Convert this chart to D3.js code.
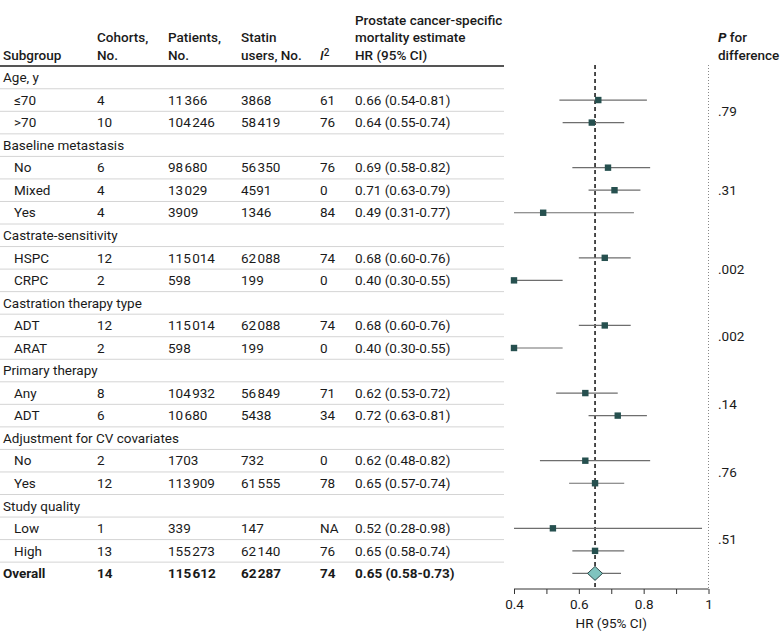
<!DOCTYPE html>
<meta charset="utf-8">
<style>
body {
  margin: 0;
  background: #fff;
}
text {
  font-family: Roboto, "Noto Sans", sans-serif;
  font-size: 13.5px;
  fill: #1a1a1a;
}
.head {
  font-weight: 500;
}
</style>
<body>
<script src="https://d3js.org/d3.v7.min.js"></script>
<script>
var width = 780;
var height = 643;

// subgroup headings and how many rows each one has
var groupNames = ["Age, y", "Baseline metastasis", "Castrate-sensitivity", "Castration therapy type",
                  "Primary therapy", "Adjustment for CV covariates", "Study quality"];
var groupSizes = [2, 3, 2, 2, 2, 2, 2];
var pValues = [".79", ".31", ".002", ".002", ".14", ".76", ".51"];

var subgroups = ["≤70", ">70", "No", "Mixed", "Yes", "HSPC", "CRPC", "ADT", "ARAT", "Any", "ADT", "No", "Yes", "Low", "High"];
var cohorts = [4, 10, 6, 4, 4, 12, 2, 12, 2, 8, 6, 2, 12, 1, 13];
var patients = [11366, 104246, 98680, 13029, 3909, 115014, 598, 115014, 598, 104932, 10680, 1703, 113909, 339, 155273];
var statinUsers = [3868, 58419, 56350, 4591, 1346, 62088, 199, 62088, 199, 56849, 5438, 732, 61555, 147, 62140];
var iSquared = ["61", "76", "76", "0", "84", "74", "0", "74", "0", "71", "34", "0", "78", "NA", "76"];
var hr = [0.66, 0.64, 0.69, 0.71, 0.49, 0.68, 0.40, 0.68, 0.40, 0.62, 0.72, 0.62, 0.65, 0.52, 0.65];
var hrLow = [0.54, 0.55, 0.58, 0.63, 0.31, 0.60, 0.30, 0.60, 0.30, 0.53, 0.63, 0.48, 0.57, 0.28, 0.58];
var hrHigh = [0.81, 0.74, 0.82, 0.79, 0.77, 0.76, 0.55, 0.76, 0.55, 0.72, 0.81, 0.82, 0.74, 0.98, 0.74];

var overall = ["Overall", 14, 115612, 62287, "74", 0.65, 0.58, 0.73];

var axisTicks = [0.4, 0.5, 0.6, 0.7, 0.8, 0.9, 1];

function fmtNum(n) {
  if (n >= 10000) return d3.format(",")(n).replace(",", "\u200A");
  return String(n);
}
function fmtHr(v, l, h) {
  return v.toFixed(2) + " (" + l.toFixed(2) + "-" + h.toFixed(2) + ")";
}

// build the list of rows
var rows = [];
var k = 0;
groupNames.forEach(function(g, gi) {
  rows.push({type: "group", label: g});
  var first = rows.length;
  for (var j = 0; j < groupSizes[gi]; j++) {
    rows.push({type: "item", label: subgroups[k], cohorts: cohorts[k], patients: patients[k],
               statin: statinUsers[k], i2: iSquared[k], hr: hr[k], lo: hrLow[k], hi: hrHigh[k]});
    k++;
  }
  rows[first].p = pValues[gi];
  rows[first].pSpan = groupSizes[gi];
});
rows.push({type: "overall", label: overall[0], cohorts: overall[1], patients: overall[2],
           statin: overall[3], i2: overall[4], hr: overall[5], lo: overall[6], hi: overall[7]});

var svg = d3.select("body").append("svg").attr("width", width).attr("height", height);

var y = d3.scaleLinear().domain([0, rows.length - 1]).range([77.5, 573.4]);
var rowH = y(1) - y(0);
var x = d3.scaleLinear().domain([0.4, 1]).range([514, 708.5]);

var col = {label: 3, cohorts: 97, patients: 168, statin: 241, i2: 320, hr: 355, p: 718};
var tableRight = 504;
var axisY = 589;

// header
var header = svg.append("g").attr("class", "head");
function headText(xx, yy, lines) {
  lines.forEach(function(s, i) {
    header.append("text").attr("class", "head").attr("x", xx).attr("y", yy - (lines.length - 1 - i) * 17.5)
      .attr("dy", "0.35em").text(s);
  });
}
headText(col.label, 55, ["Subgroup"]);
headText(col.cohorts, 55, ["Cohorts,", "No."]);
headText(col.patients, 55, ["Patients,", "No."]);
headText(col.statin, 55, ["Statin", "users, No."]);
headText(col.hr, 55, ["Prostate cancer-specific", "mortality estimate", "HR (95% CI)"]);
var i2h = header.append("text").attr("class", "head").attr("x", col.i2).attr("y", 55).attr("dy", "0.35em");
i2h.append("tspan").style("font-style", "italic").text("I");
i2h.append("tspan").attr("dy", "-0.4em").style("font-size", "10px").text("2");
var ph = header.append("text").attr("class", "head").attr("x", col.p).attr("y", 37.5).attr("dy", "0.35em");
ph.append("tspan").style("font-style", "italic").style("font-weight", "700").text("P");
ph.append("tspan").text(" for");
header.append("text").attr("class", "head").attr("x", col.p).attr("y", 55).attr("dy", "0.35em").text("difference");

// row separators
svg.selectAll("line.sep")
  .data(d3.range(rows.length - 1))
  .enter().append("line")
  .attr("class", "sep")
  .attr("x1", 0).attr("x2", tableRight)
  .attr("y1", function(i) { return y(i) + rowH / 2; })
  .attr("y2", function(i) { return y(i) + rowH / 2; })
  .style("stroke", "#d4d4d4").style("stroke-width", 1);

svg.append("line")
  .attr("x1", 0).attr("x2", tableRight).attr("y1", 66).attr("y2", 66)
  .style("stroke", "#555").style("stroke-width", 2);

// reference lines
svg.append("line")
  .attr("x1", x(1)).attr("x2", x(1)).attr("y1", 65).attr("y2", axisY)
  .style("stroke", "#888").style("stroke-width", 1).style("stroke-dasharray", "1,2");
svg.append("line")
  .attr("x1", x(overall[5])).attr("x2", x(overall[5])).attr("y1", 65).attr("y2", axisY)
  .style("stroke", "#111").style("stroke-width", 1.5).style("stroke-dasharray", "4,3");

// table text
var rowG = svg.selectAll("g.row").data(rows).enter().append("g")
  .attr("class", "row")
  .attr("transform", function(d, i) { return "translate(0," + y(i) + ")"; });

rowG.append("text")
  .attr("x", function(d) { return d.type === "item" ? 14 : col.label; })
  .attr("dy", "0.35em")
  .style("font-weight", function(d) { return d.type === "overall" ? "700" : null; })
  .text(function(d) { return d.label; });

var cols = [["cohorts", function(d) { return d.cohorts; }],
            ["patients", function(d) { return fmtNum(d.patients); }],
            ["statin", function(d) { return fmtNum(d.statin); }],
            ["i2", function(d) { return d.i2; }],
            ["hr", function(d) { return fmtHr(d.hr, d.lo, d.hi); }]];
cols.forEach(function(c) {
  rowG.filter(function(d) { return d.type !== "group"; })
    .append("text")
    .attr("x", col[c[0]])
    .attr("dy", "0.35em")
    .style("font-weight", function(d) { return d.type === "overall" ? "700" : null; })
    .text(c[1]);
});

// P values, centred on their group rows
rows.forEach(function(d, i) {
  if (d.p) {
    svg.append("text")
      .attr("x", col.p)
      .attr("y", y(i + (d.pSpan - 1) / 2))
      .attr("dy", "0.35em")
      .text(d.p);
  }
});

// CI lines and markers
var est = rowG.filter(function(d) { return d.type !== "group"; });
est.append("line")
  .attr("x1", function(d) { return x(Math.max(d.lo, 0.4)); })
  .attr("x2", function(d) { return x(Math.min(d.hi, 1)); })
  .style("stroke", "#6e6e6e").style("stroke-width", 1.2);

est.filter(function(d) { return d.type === "item"; })
  .append("rect")
  .attr("x", function(d) { return x(d.hr) - 3.2; })
  .attr("y", -3.2)
  .attr("width", 6.4).attr("height", 6.4)
  .style("fill", "#26504f");

est.filter(function(d) { return d.type === "overall"; })
  .append("path")
  .attr("d", function(d) {
    var cx = x(d.hr);
    return "M" + (cx - 7.5) + ",0L" + cx + ",-7L" + (cx + 7.5) + ",0L" + cx + ",7Z";
  })
  .style("fill", "#7fc4bf").style("stroke", "#2f4a4a").style("stroke-width", 1);

// axis
var axis = d3.axisBottom(x)
  .tickValues(axisTicks)
  .tickSize(5)
  .tickFormat(function(d) { return Math.round(d * 10) % 2 === 0 ? d3.format("~g")(d) : ""; });
var ax = svg.append("g").attr("transform", "translate(0," + axisY + ")").call(axis);
ax.select(".domain").attr("d", "M" + x(0.4) + ",0H" + x(1)).style("stroke", "#333");
ax.selectAll(".tick line").style("stroke", "#333");
ax.selectAll(".tick text").attr("y", 10).style("font-size", "13.5px").style("font-family", null).style("fill", "#1a1a1a");

svg.append("text")
  .attr("x", x(0.7)).attr("y", 623).attr("dy", "0.35em")
  .attr("text-anchor", "middle")
  .text("HR (95% CI)");
</script>
</body>
